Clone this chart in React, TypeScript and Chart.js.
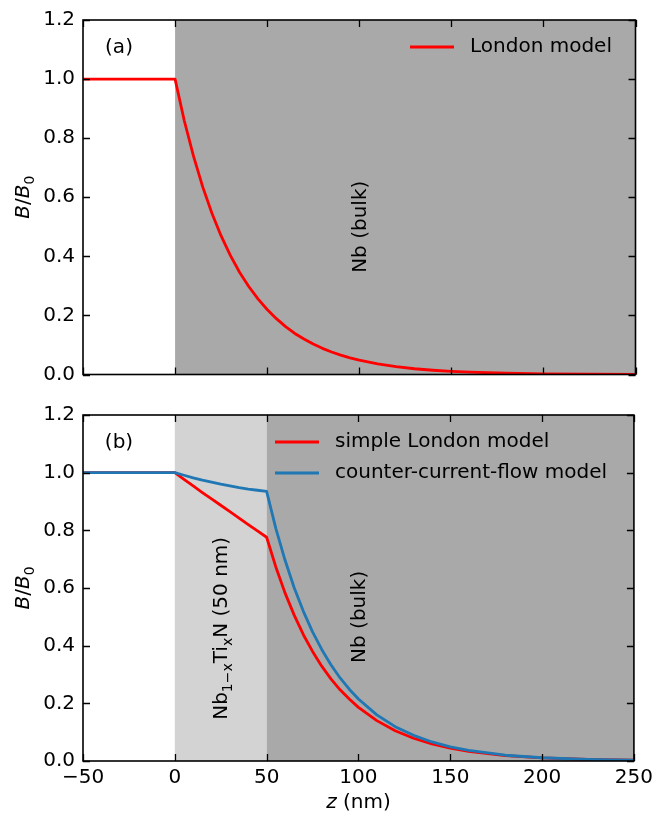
import React, { useEffect, useRef } from "react";
import { Chart, registerables } from "chart.js";

Chart.register(...registerables);

// Depth grid (nm) shared by all field profiles
const depthNm = [
  -50, 0, 5, 10, 15, 20, 25, 30, 35, 40, 45, 50, 55, 60, 65, 70, 75, 80, 85, 90, 95, 100,
  110, 120, 130, 140, 150, 160, 180, 200, 225, 250,
];

// Panel (a): bulk Nb, London screening
const londonBulk = [
  1, 1, 0.859, 0.739, 0.635, 0.546, 0.469, 0.403, 0.346, 0.298, 0.256, 0.22, 0.189, 0.162,
  0.139, 0.12, 0.103, 0.0886, 0.0761, 0.0654, 0.0562, 0.0483, 0.0357, 0.0264, 0.0195, 0.0144,
  0.0106, 0.0078, 0.0043, 0.0023, 0.0011, 0.0005,
];

// Panel (b): NbTiN (50 nm) on Nb
const simpleLondon = [
  1, 1, 0.977, 0.954, 0.931, 0.909, 0.887, 0.865, 0.842, 0.82, 0.798, 0.776, 0.673, 0.583,
  0.506, 0.438, 0.38, 0.329, 0.285, 0.247, 0.215, 0.186, 0.14, 0.105, 0.079, 0.059, 0.0446,
  0.0335, 0.0189, 0.0107, 0.0052, 0.0026,
];
const counterFlow = [
  1, 1, 0.991, 0.982, 0.974, 0.967, 0.96, 0.954, 0.948, 0.943, 0.939, 0.935, 0.807, 0.697,
  0.601, 0.519, 0.448, 0.387, 0.334, 0.288, 0.249, 0.215, 0.16, 0.119, 0.089, 0.066, 0.049,
  0.037, 0.02, 0.0113, 0.0054, 0.0026,
];

const xRange = [-50, 250];
const yRange = [0, 1.2];
const xStep = 50;
const yStep = 0.2;

const DARK = "#a9a9a9";
const LIGHT = "#d3d3d3";
const RED = "#ff0000";
const BLUE = "#1f77b4";

const topRegions = [{ from: 0, to: 250, color: DARK }];
const bottomRegions = [
  { from: 0, to: 50, color: LIGHT },
  { from: 50, to: 250, color: DARK },
];

type Seg = { t: string; italic?: boolean; sub?: boolean };
type Note = { x: number; y: number; segs: Seg[] };

const topNotes: Note[] = [{ x: 100, y: 0.5, segs: [{ t: "Nb (bulk)" }] }];
const bottomNotes: Note[] = [
  { x: 100, y: 0.5, segs: [{ t: "Nb (bulk)" }] },
  {
    x: 25,
    y: 0.46,
    segs: [
      { t: "Nb" },
      { t: "1\u2212x", sub: true },
      { t: "Ti" },
      { t: "x", sub: true },
      { t: "N (50 nm)" },
    ],
  },
];

const FONT = '"DejaVu Sans", sans-serif';
const BASE = 20;

function segFont(s: Seg) {
  const size = s.sub ? BASE * 0.7 : BASE;
  return `${s.italic ? "italic " : ""}${size}px ${FONT}`;
}

function drawRich(ctx: CanvasRenderingContext2D, segs: Seg[], x: number, y: number, rot = 0) {
  ctx.save();
  ctx.translate(x, y);
  if (rot) ctx.rotate(rot);
  ctx.textAlign = "left";
  ctx.textBaseline = "alphabetic";
  ctx.fillStyle = "#000";
  let w = 0;
  for (const s of segs) {
    ctx.font = segFont(s);
    w += ctx.measureText(s.t).width;
  }
  let cx = -w / 2;
  const base = BASE * 0.32;
  for (const s of segs) {
    ctx.font = segFont(s);
    ctx.fillText(s.t, cx, base + (s.sub ? BASE * 0.22 : 0));
    cx += ctx.measureText(s.t).width;
  }
  ctx.restore();
}

type PanelCfg = {
  regions: { from: number; to: number; color: string }[];
  notes: Note[];
  letter: string;
  legend: { label: string; color: string }[];
  legendX: number;
  xTitle: boolean;
};

function panelPlugin(cfg: PanelCfg) {
  return {
    id: "panelDecor",
    beforeDatasetsDraw(chart: any) {
      const { ctx, chartArea: a, scales } = chart;
      const xs = scales.x;
      const ys = scales.y;
      ctx.save();
      for (const r of cfg.regions) {
        const x0 = xs.getPixelForValue(r.from);
        const x1 = xs.getPixelForValue(r.to);
        ctx.fillStyle = r.color;
        ctx.fillRect(x0, a.top, x1 - x0, a.bottom - a.top);
      }
      ctx.restore();
      for (const n of cfg.notes) {
        drawRich(ctx, n.segs, xs.getPixelForValue(n.x), ys.getPixelForValue(n.y), -Math.PI / 2);
      }
    },
    afterDatasetsDraw(chart: any) {
      const { ctx, chartArea: a, scales } = chart;
      const xs = scales.x;
      const ys = scales.y;
      const tl = 7;
      ctx.save();
      ctx.strokeStyle = "#000";
      ctx.lineWidth = 1.3;
      ctx.beginPath();
      for (const t of xs.ticks) {
        const px = Math.round(xs.getPixelForValue(t.value)) + 0.5;
        ctx.moveTo(px, a.bottom);
        ctx.lineTo(px, a.bottom - tl);
        ctx.moveTo(px, a.top);
        ctx.lineTo(px, a.top + tl);
      }
      for (const t of ys.ticks) {
        const py = Math.round(ys.getPixelForValue(t.value)) + 0.5;
        ctx.moveTo(a.left, py);
        ctx.lineTo(a.left + tl, py);
        ctx.moveTo(a.right, py);
        ctx.lineTo(a.right - tl, py);
      }
      ctx.stroke();
      ctx.lineWidth = 1.6;
      ctx.strokeRect(a.left, a.top, a.right - a.left, a.bottom - a.top);
      ctx.restore();
    },
    afterDraw(chart: any) {
      const { ctx, chartArea: a } = chart;
      // panel letter
      drawRich(ctx, [{ t: cfg.letter }], a.left + 36, a.top + 27);
      // legend
      cfg.legend.forEach((item, i) => {
        const y = a.top + 27 + i * 31;
        const lx = a.left + cfg.legendX;
        ctx.save();
        ctx.strokeStyle = item.color;
        ctx.lineWidth = 2.8;
        ctx.beginPath();
        ctx.moveTo(lx, y);
        ctx.lineTo(lx + 44, y);
        ctx.stroke();
        ctx.fillStyle = "#000";
        ctx.font = `${BASE}px ${FONT}`;
        ctx.textAlign = "left";
        ctx.textBaseline = "middle";
        ctx.fillText(item.label, lx + 60, y);
        ctx.restore();
      });
      // y-axis title B/B0
      drawRich(
        ctx,
        [{ t: "B", italic: true }, { t: "/" }, { t: "B", italic: true }, { t: "0", sub: true }],
        23,
        (a.top + a.bottom) / 2,
        -Math.PI / 2
      );
      if (cfg.xTitle) {
        drawRich(ctx, [{ t: "z", italic: true }, { t: " (nm)" }], (a.left + a.right) / 2, a.bottom + 41);
      }
    },
  };
}

function makeConfig(
  datasets: any[],
  cfg: PanelCfg,
  padTop: number,
  xAxisH: number,
  showXLabels: boolean
): any {
  const tickFont = { family: FONT, size: BASE };
  return {
    type: "line",
    data: { datasets },
    plugins: [panelPlugin(cfg)],
    options: {
      responsive: false,
      maintainAspectRatio: false,
      animation: false,
      events: [],
      layout: { padding: { top: padTop, right: 22.5, left: 0, bottom: 0 } },
      plugins: { legend: { display: false }, tooltip: { enabled: false } },
      elements: { point: { radius: 0 }, line: { tension: 0 } },
      scales: {
        x: {
          type: "linear",
          min: xRange[0],
          max: xRange[1],
          ticks: {
            stepSize: xStep,
            display: showXLabels,
            color: "#000",
            font: tickFont,
            padding: 5,
            maxRotation: 0,
            callback: (v: number) => (v < 0 ? "\u2212" + Math.abs(v) : String(v)),
          },
          grid: { display: false, drawTicks: false },
          border: { display: false },
          afterFit: (s: any) => {
            s.height = xAxisH;
          },
        },
        y: {
          type: "linear",
          min: yRange[0],
          max: yRange[1],
          ticks: {
            stepSize: yStep,
            color: "#000",
            font: tickFont,
            padding: 8,
            callback: (v: number) => v.toFixed(1),
          },
          grid: { display: false, drawTicks: false },
          border: { display: false },
          afterFit: (s: any) => {
            s.width = 83;
          },
        },
      },
    },
  };
}

function series(label: string, values: number[], color: string, order: number) {
  return {
    label,
    data: depthNm.map((z, i) => ({ x: z, y: values[i] })),
    borderColor: color,
    borderWidth: 2.8,
    borderJoinStyle: "round",
    pointRadius: 0,
    fill: false,
    order,
  };
}

export default function App() {
  const topRef = useRef<HTMLCanvasElement | null>(null);
  const bottomRef = useRef<HTMLCanvasElement | null>(null);

  useEffect(() => {
    const top = new Chart(
      topRef.current as HTMLCanvasElement,
      makeConfig(
        [series("London model", londonBulk, RED, 0)],
        {
          regions: topRegions,
          notes: topNotes,
          letter: "(a)",
          legend: [{ label: "London model", color: RED }],
          legendX: 327,
          xTitle: false,
        },
        20,
        20.5,
        false
      )
    );
    const bottom = new Chart(
      bottomRef.current as HTMLCanvasElement,
      makeConfig(
        [
          series("simple London model", simpleLondon, RED, 1),
          series("counter-current-flow model", counterFlow, BLUE, 0),
        ],
        {
          regions: bottomRegions,
          notes: bottomNotes,
          letter: "(b)",
          legend: [
            { label: "simple London model", color: RED },
            { label: "counter-current-flow model", color: BLUE },
          ],
          legendX: 192,
          xTitle: true,
        },
        11,
        53,
        true
      )
    );
    return () => {
      top.destroy();
      bottom.destroy();
    };
  }, []);

  return (
    <div style={{ position: "absolute", left: 0, top: 0, width: 658, height: 814, background: "#fff" }}>
      <canvas
        ref={topRef}
        width={658}
        height={395}
        style={{ position: "absolute", left: 0, top: 0, width: 658, height: 395 }}
      />
      <canvas
        ref={bottomRef}
        width={658}
        height={419}
        style={{ position: "absolute", left: 0, top: 395, width: 658, height: 419 }}
      />
    </div>
  );
}
